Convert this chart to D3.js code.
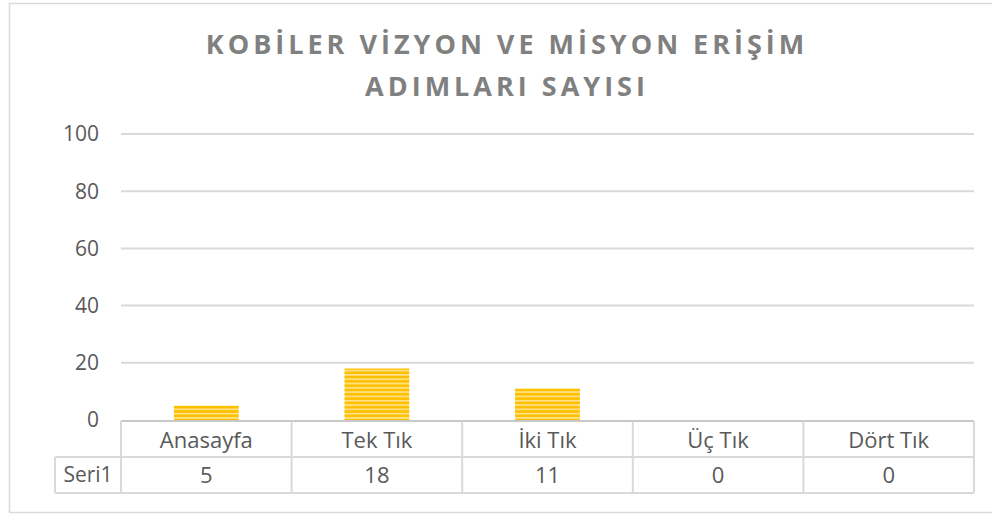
<!DOCTYPE html>
<html>
<head>
<meta charset="UTF-8">
<script src="https://d3js.org/d3.v7.min.js"></script>
<style>
    body {
        margin: 0;
        background: #fff;
    }

    text {
        font-family: "Open Sans", sans-serif;
        fill: #595959;
    }

    text.title {
        font-size: 27px;
        font-weight: 700;
        fill: #808080;
        letter-spacing: 4px;
    }

    .grid line {
        stroke: #d9d9d9;
        stroke-width: 2;
    }

    .tbl line {
        stroke: #d9d9d9;
        stroke-width: 2;
    }
</style>
</head>
<body>
<svg width="992" height="516"></svg>
<script>
    // chart data
    var categories = ["Anasayfa", "Tek Tık", "İki Tık", "Üç Tık", "Dört Tık"];
    var seriesName = "Seri1";
    var values = [5, 18, 11, 0, 0];
    var yTicks = [0, 20, 40, 60, 80, 100];
    var titleLines = ["KOBİLER VİZYON VE MİSYON ERİŞİM", "ADIMLARI SAYISI"];

    var svg = d3.select("svg");
    var plot = {left: 121, right: 974, top: 134, bottom: 420};

    // outer chart border
    svg.append("rect")
        .attr("x", 9.5).attr("y", 3.5)
        .attr("width", 1000).attr("height", 509)
        .attr("fill", "#fff")
        .attr("stroke", "#d9d9d9")
        .attr("stroke-width", 1.5);

    // striped fill for the bars
    var pat = svg.append("defs").append("pattern")
        .attr("id", "stripes")
        .attr("patternUnits", "userSpaceOnUse")
        .attr("width", 8).attr("height", 4.3);
    pat.append("rect").attr("width", 8).attr("height", 4.3).attr("fill", "#ffc000");
    pat.append("rect").attr("y", 0).attr("width", 8).attr("height", 1.6).attr("fill", "#ffe38f");

    var x = d3.scaleBand()
        .domain(categories)
        .range([plot.left, plot.right])
        .paddingInner(0.62)
        .paddingOuter(0.31);

    var y = d3.scaleLinear()
        .domain([0, 100])
        .range([plot.bottom, plot.top]);

    // title
    svg.selectAll("text.title")
        .data(titleLines)
        .enter().append("text")
        .attr("class", "title")
        .attr("x", 507)
        .attr("y", (d, i) => 54 + i * 42)
        .attr("text-anchor", "middle")
        .text(d => d);

    // gridlines
    svg.append("g")
        .attr("class", "grid")
        .selectAll("line")
        .data(yTicks.filter(d => d > 0))
        .enter().append("line")
        .attr("x1", plot.left).attr("x2", plot.right)
        .attr("y1", d => y(d)).attr("y2", d => y(d));

    // y axis labels
    svg.append("g")
        .selectAll("text")
        .data(yTicks)
        .enter().append("text")
        .attr("x", 99)
        .attr("y", d => y(d))
        .attr("dy", "0.35em")
        .attr("text-anchor", "end")
        .style("font-size", "21px")
        .text(d => d);

    // bars
    svg.append("g")
        .selectAll("rect")
        .data(values)
        .enter().append("rect")
        .attr("x", (d, i) => x(categories[i]))
        .attr("y", d => y(d))
        .attr("width", x.bandwidth())
        .attr("height", d => y(0) - y(d))
        .attr("fill", "url(#stripes)");

    // data table below the axis
    var rowTop = 421, rowMid = 457, rowBot = 493, labelLeft = 55;
    var tbl = svg.append("g").attr("class", "tbl");
    var edges = [plot.left].concat(categories.map(c => x(c) + x.bandwidth() / 2 + x.step() / 2));

    tbl.append("line").attr("x1", plot.left).attr("x2", plot.right)
        .attr("y1", rowTop).attr("y2", rowTop).style("stroke", "#c8c8c8");
    tbl.append("line").attr("x1", labelLeft).attr("x2", plot.right)
        .attr("y1", rowMid).attr("y2", rowMid);
    tbl.append("line").attr("x1", labelLeft).attr("x2", plot.right)
        .attr("y1", rowBot).attr("y2", rowBot);
    tbl.append("line").attr("x1", labelLeft).attr("x2", labelLeft)
        .attr("y1", rowMid).attr("y2", rowBot);
    tbl.selectAll("line.v")
        .data(edges)
        .enter().append("line")
        .attr("class", "v")
        .attr("x1", d => d).attr("x2", d => d)
        .attr("y1", rowTop).attr("y2", rowBot);

    svg.append("g")
        .selectAll("text")
        .data(categories)
        .enter().append("text")
        .attr("x", d => x(d) + x.bandwidth() / 2)
        .attr("y", (rowTop + rowMid) / 2 + 1)
        .attr("dy", "0.35em")
        .attr("text-anchor", "middle")
        .style("font-size", "22px")
        .text(d => d);

    svg.append("g")
        .selectAll("text")
        .data(values)
        .enter().append("text")
        .attr("x", (d, i) => x(categories[i]) + x.bandwidth() / 2)
        .attr("y", (rowMid + rowBot) / 2)
        .attr("dy", "0.35em")
        .attr("text-anchor", "middle")
        .style("font-size", "22px")
        .text(d => d);

    svg.append("text")
        .attr("x", (labelLeft + plot.left) / 2)
        .attr("y", (rowMid + rowBot) / 2)
        .attr("dy", "0.35em")
        .attr("text-anchor", "middle")
        .style("font-size", "21px")
        .text(seriesName);
</script>
</body>
</html>
